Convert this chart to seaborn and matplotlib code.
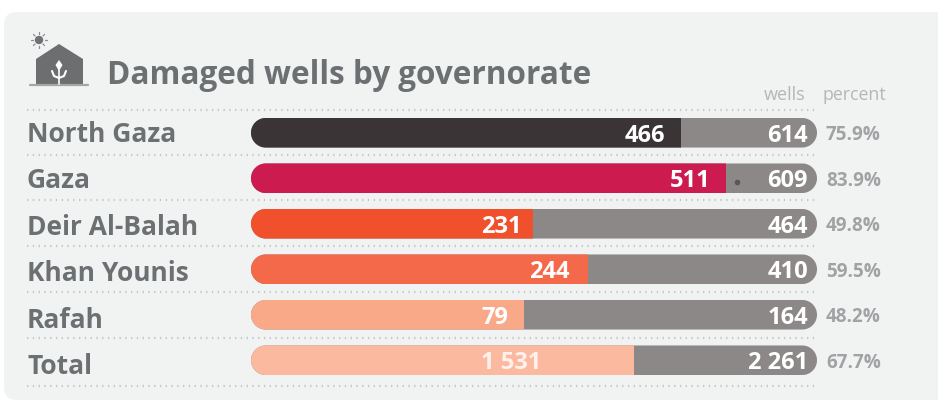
import matplotlib
matplotlib.use("Agg")
import matplotlib.pyplot as plt
import numpy as np
import pandas as pd
import seaborn as sns
from matplotlib.patches import Circle, FancyBboxPatch, PathPatch, Polygon
from matplotlib.path import Path
from matplotlib.transforms import IdentityTransform

# Damaged wells per governorate
governorates = ["North Gaza", "Gaza", "Deir Al-Balah", "Khan Younis", "Rafah", "Total"]
damaged = [466, 511, 231, 244, 79, 1531]
total_wells = [614, 609, 464, 410, 164, 2261]
percent = [75.9, 83.9, 49.8, 59.5, 48.2, 67.7]
damaged_labels = ["466", "511", "231", "244", "79", "1 531"]
total_labels = ["614", "609", "464", "410", "164", "2 261"]
fill_colours = ["#3b3437", "#cc1c4f", "#f0502c", "#f4694a", "#f9a988", "#fbb9a0"]

W, H = 938, 401
FONT = "Open Sans"
GREY_TEXT = "#6d7073"
GREY_BAR = "#8c8888"
PANEL = "#f1f3f3"
LABEL_GAP = [15, 15, 11, 18, 15, 93]  # px between a damaged count and its fill end

sns.set_theme(style="white", rc={"font.family": FONT})
fig = plt.figure(figsize=(W / 100, H / 100), dpi=100, facecolor="white")

# Pixel-space layer for the card, the icon and the header text
bg = fig.add_axes([0, 0, 1, 1], zorder=0)
bg.set_xlim(0, W)
bg.set_ylim(H, 0)
bg.axis("off")
bg.add_patch(FancyBboxPatch((4, 12), W + 40, 388, boxstyle="round,pad=0,rounding_size=13",
                            fc=PANEL, ec="none"))

# Sun above the house
sun_c = (39, 40)
bg.add_patch(Circle(sun_c, 4.2, fc="#6f7172", ec="none"))
for dx, dy in [(7, 0), (-7, 0), (0, 7), (0, -7), (5, 5), (-5, 5), (5, -5), (-5, -5)]:
    bg.plot([sun_c[0] + dx * .8, sun_c[0] + dx * 1.1], [sun_c[1] + dy * .8, sun_c[1] + dy * 1.1],
            color="#8a8c8d", lw=0.9)
# House with a seedling on its front
bg.add_patch(Polygon([(36, 84), (36, 59), (59, 44), (83, 59), (83, 84)], closed=True,
                     fc="#6c6e6f", ec="none"))
bg.plot([30, 88], [85, 85], color="#a3a5a6", lw=1.6, solid_capstyle="round")
bg.plot([59, 59], [70, 84], color="white", lw=1.2)
bg.plot([52, 54, 59], [71, 76, 78], color="white", lw=1.5)
bg.plot([66, 64, 59], [71, 76, 78], color="white", lw=1.5)
bg.add_patch(Polygon([(59, 60), (62.5, 65), (59, 71), (55.5, 65)], closed=True, fc="white", ec="none"))

bg.text(107, 75, "Damaged wells by governorate", fontsize=22.7, fontweight="bold",
        color=GREY_TEXT, ha="left", va="center", family=FONT)
bg.text(805, 95, "wells", fontsize=13, color="#b4b6b7", ha="right", va="center", family=FONT)
bg.text(822, 95, "percent", fontsize=12.8, color="#b4b6b7", ha="left", va="center", family=FONT)

# Dotted row rules
for y in [109.5, 154.5, 200, 246, 292, 337.5, 385.5]:
    bg.plot([27, 815], [y, y], color="#c4c6c7", lw=1.6, ls=(0, (0.6, 2.0)))

# Bar axes: 0-100 % mapped across the shared bar width
ax = fig.add_axes([251 / W, 1 - 383 / H, (817 - 251) / W, (383 - 110) / H], zorder=1)
ax.patch.set_alpha(0)
df = pd.DataFrame({"governorate": governorates, "percent": percent,
                   "all": [100.0] * len(governorates)})
sns.barplot(data=df, y="governorate", x="all", color=GREY_BAR, width=0.65, saturation=1,
            linewidth=0, ax=ax, orient="h")
n_back = len(ax.patches)
sns.barplot(data=df, y="governorate", x="percent", hue="governorate", palette=fill_colours,
            width=0.65, saturation=1, linewidth=0, legend=False, dodge=False, ax=ax, orient="h")
ax.set_xlim(0, 100)
ax.set_ylim(len(governorates) - 0.5, -0.5)
ax.axis("off")
fig.canvas.draw()


def pill_path(x0, x1, ylo, yhi):
    """Closed outline with semicircular ends, in display pixels."""
    r = (yhi - ylo) / 2
    cy = (ylo + yhi) / 2
    t = np.linspace(-np.pi / 2, np.pi / 2, 40)
    right = np.column_stack([x1 - r + r * np.cos(t), cy + r * np.sin(t)])
    left = np.column_stack([x0 + r - r * np.cos(t[::-1]), cy + r * np.sin(t[::-1])])
    verts = np.vstack([right, left, right[:1]])
    return Path(verts, closed=True)


# Every row is clipped to a pill shape
patches = list(ax.patches)
back, front = patches[:n_back], patches[n_back:]
for i, b in enumerate(back):
    (x0, y0), (x1, y1) = ax.transData.transform([(0, i - 0.325), (100, i + 0.325)])
    ylo, yhi = sorted((y0, y1))
    pill = PathPatch(pill_path(x0, x1, ylo, yhi), transform=IdentityTransform(),
                     fc="none", ec="none")
    b.set_clip_path(pill)
    front[i].set_clip_path(pill)

label_kw = dict(textcoords="offset points", color="white", fontsize=17, fontweight="bold",
                va="center_baseline", family=FONT, zorder=5)
for i, name in enumerate(governorates):
    bg.text(27, 131.5 + i * 46.4, name, fontsize=19, fontweight="bold", color=GREY_TEXT,
            ha="left", va="center_baseline", family=FONT)
    ax.annotate(damaged_labels[i], (percent[i], i), xytext=(-LABEL_GAP[i] * 0.72, 0),
                ha="right", alpha=0.8 if i == 5 else 1, **label_kw)
    ax.annotate(total_labels[i], (100, i), xytext=(-9 * 0.72, 0), ha="right", **label_kw)
    ax.annotate(f"{percent[i]}%", (100, i), xytext=(9 * 0.72, 0), textcoords="offset points",
                color="#a0a2a4", fontsize=13.6, fontweight="bold", ha="left",
                va="center_baseline", family=FONT, annotation_clip=False)

# Small speck on the Gaza row
ax.plot([85.8], [1.08], marker="o", ms=3, color="#5a5658", zorder=4)

fig.savefig("out.png", dpi=100, facecolor="white")
